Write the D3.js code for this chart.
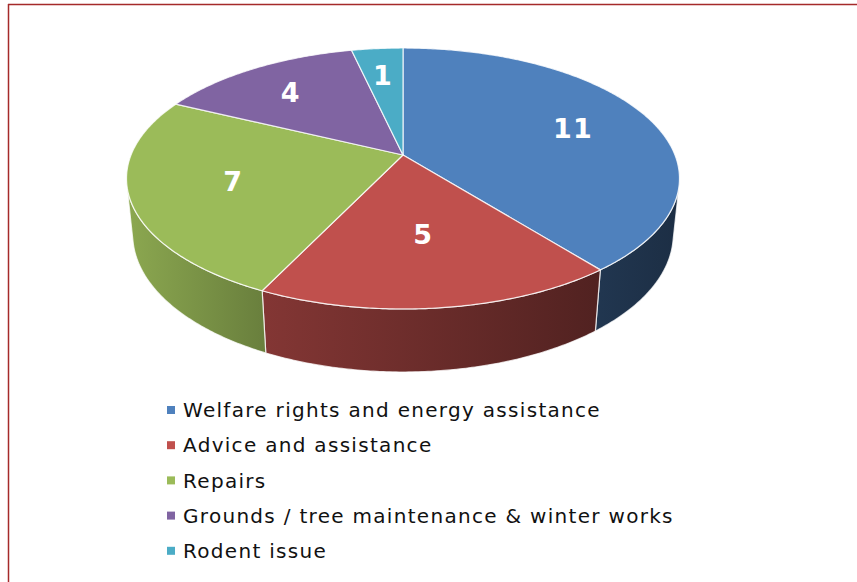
<!DOCTYPE html>
<html>
<head>
<meta charset="utf-8">
<script src="https://cdnjs.cloudflare.com/ajax/libs/d3/7.8.5/d3.min.js"></script>
<style>
  body { margin: 0; background: #fff; }
  svg { display: block; }
</style>
</head>
<body>
<div id="viz"></div>
<script>
// chart data
var categories = ["Welfare rights and energy assistance", "Advice and assistance", "Repairs",
                  "Grounds / tree maintenance & winter works", "Rodent issue"];
var values = [11, 5, 7, 4, 1];
var colors = ["#4F81BD", "#C0504D", "#9BBB59", "#8064A2", "#4BACC6"];

var w = 857, h = 582;

var svg = d3.select("#viz").append("svg")
    .attr("width", w)
    .attr("height", h);

// frame lines (top + left only)
svg.append("line").attr("x1", 8).attr("y1", 4.5).attr("x2", w).attr("y2", 4.5)
    .style("stroke", "#a52a2a").style("stroke-width", 1.5);
svg.append("line").attr("x1", 8.5).attr("y1", 4).attr("x2", 8.5).attr("y2", h)
    .style("stroke", "#a52a2a").style("stroke-width", 1.5);

// perspective setup for the tilted disc
var cx = 403, cy = 155;
var elev = 27.66 * Math.PI / 180;
var sa = Math.sin(elev), ca = Math.cos(elev);
var dist = 4.92, focal = 1338, thick = 0.2345;

function proj(theta, hgt) {
  var u = Math.sin(theta), v = -Math.cos(theta);
  var Y = v * sa - hgt * ca;
  var Z = dist - v * ca - hgt * sa;
  return [cx + focal * u / Z, cy + focal * Y / Z];
}

function arcPoints(a0, a1, hgt) {
  var pts = [], n = Math.max(2, Math.ceil(Math.abs(a1 - a0) / 0.01));
  for (var i = 0; i <= n; i++) pts.push(proj(a0 + (a1 - a0) * i / n, hgt));
  return pts;
}

var pie = d3.pie().sort(null).value(function(d) { return d; });
var arcs = pie(values);

var line = d3.line();

// wall is visible only where its normal faces the camera
var visLim = Math.acos(-1 / (dist * ca));
var visA = visLim, visB = 2 * Math.PI - visLim;

// horizontal shading for the walls
var defs = svg.append("defs");
var left = proj(-Math.PI / 2, 0)[0] - 5, right = proj(Math.PI / 2, 0)[0] + 5;
colors.forEach(function(c, i) {
  var g = defs.append("linearGradient")
      .attr("id", "wall" + i)
      .attr("gradientUnits", "userSpaceOnUse")
      .attr("x1", left).attr("x2", right).attr("y1", 0).attr("y2", 0);
  [[0, 0.9], [0.25, 0.68], [1, 0.36]].forEach(function(s) {
    var col = d3.rgb(c);
    g.append("stop").attr("offset", s[0])
        .attr("stop-color", d3.rgb(col.r * s[1], col.g * s[1], col.b * s[1]));
  });
});

var chart = svg.append("g");

// side walls
arcs.forEach(function(d, i) {
  var a0 = Math.max(d.startAngle, visA), a1 = Math.min(d.endAngle, visB);
  if (a1 <= a0) return;
  var pts = arcPoints(a0, a1, 0).concat(arcPoints(a1, a0, -thick));
  chart.append("path")
      .attr("d", line(pts) + "Z")
      .style("fill", "url(#wall" + i + ")")
      .style("stroke", "#fff")
      .style("stroke-opacity", 0.75)
      .style("stroke-width", 1.2)
      .style("stroke-linejoin", "round");
});

// top faces
arcs.forEach(function(d, i) {
  var pts = [[cx, cy]].concat(arcPoints(d.startAngle, d.endAngle, 0));
  chart.append("path")
      .attr("d", line(pts) + "Z")
      .style("fill", colors[i])
      .style("stroke", "#fff")
      .style("stroke-opacity", 0.8)
      .style("stroke-width", 1.2)
      .style("stroke-linejoin", "round");
});

// value labels
var labRx = 180, labRy = 80;
arcs.forEach(function(d, i) {
  var mid = (d.startAngle + d.endAngle) / 2;
  chart.append("text")
      .attr("x", cx + labRx * Math.sin(mid))
      .attr("y", cy - labRy * Math.cos(mid))
      .attr("dy", "0.36em")
      .attr("text-anchor", "middle")
      .style("font-family", "'DejaVu Sans', Verdana, sans-serif")
      .style("font-weight", "bold")
      .style("font-size", "27px")
      .style("letter-spacing", "1px")
      .style("fill", "#fff")
      .text(d.data);
});

// legend
var legend = svg.append("g").attr("transform", "translate(167,410)");
categories.forEach(function(c, i) {
  var row = legend.append("g").attr("transform", "translate(0," + (i * 35.2) + ")");
  row.append("rect")
      .attr("x", 0).attr("y", -4)
      .attr("width", 8).attr("height", 8)
      .style("fill", colors[i]);
  row.append("text")
      .attr("x", 16).attr("y", 0)
      .attr("dy", "0.36em")
      .style("font-family", "'DejaVu Sans', Verdana, sans-serif")
      .style("font-size", "20px")
      .style("letter-spacing", "1.3px")
      .style("fill", "#111")
      .text(c);
});
</script>
</body>
</html>
